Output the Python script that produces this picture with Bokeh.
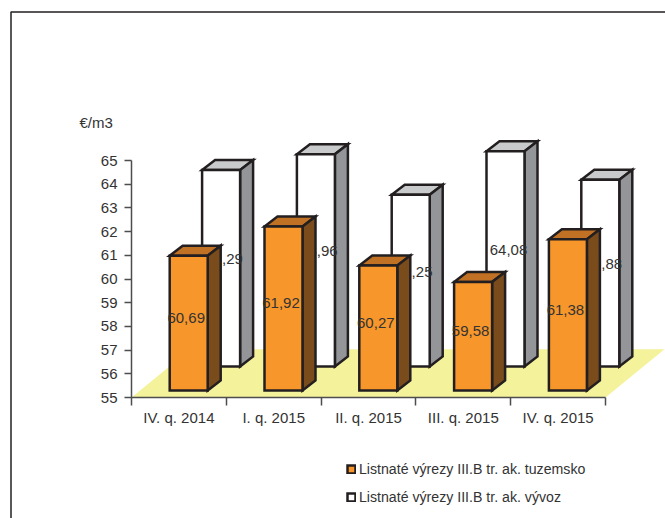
from bokeh.embed import file_html
from bokeh.resources import INLINE
from bokeh.plotting import figure
from bokeh.models import LinearAxis, FixedTicker, Legend, LegendItem, ColumnDataSource, Label, BoxAnnotation
from bokeh.core.properties import value

categories = ["IV. q. 2014", "I. q. 2015", "II. q. 2015", "III. q. 2015", "IV. q. 2015"]
domestic = [60.69, 61.92, 60.27, 59.58, 61.38]
export = [63.29, 63.96, 62.25, 64.08, 62.88]
domestic_labels = ["60,69", "61,92", "60,27", "59,58", "61,38"]
export_labels = ["63,29", "63,96", "62,25", "64,08", "62,88"]
series_names = ["Listnaté výrezy III.B tr. ak. tuzemsko", "Listnaté výrezy III.B tr. ak. vývoz"]
y_ticks = list(range(55, 66))

W, H = 665, 518
PX, PY = 94.8, 23.7          # pixels per category / per unit
AX0, AY0 = 131, 397          # axis origin in page pixels
FONT = "Liberation Sans"
DARK = "#231F20"
TXT = "#333333"

p = figure(width=W, height=H, output_backend="svg", toolbar_location=None,
           x_range=(-AX0 / PX, (W - AX0) / PX),
           y_range=(55 - (H - AY0) / PY, 55 + AY0 / PY),
           x_axis_type=None, y_axis_type=None,
           min_border=0, min_border_left=0, min_border_right=0, min_border_top=0, min_border_bottom=0)
p.grid.visible = False
p.outline_line_color = None
p.background_fill_color = "white"

# outer chart frame: left and top lines visible, the others run off the page
p.add_layout(BoxAnnotation(left=(10.5 - 131) / PX, right=(700 - 131) / PX,
                           top=55 + (397 - 11.5) / PY, bottom=55 - (560 - 397) / PY,
                           fill_color=None, fill_alpha=0, line_color=DARK, line_alpha=1.0,
                           line_width=1.5, level="underlay"))

# floor
fdx, fdy = 59.0 / PX, 48.3 / PY
p.patch([0, 5, 5 + fdx, fdx], [55, 55, 55 + fdy, 55 + fdy], fill_color="#F4F29A", line_color=None)

BAR_W = 38.0 / PX
DX, DY = 13.0 / PX, 10.0 / PY


def bars(values, xoff, yoff, front, top, side):
    left = [i + 0.5 + xoff - BAR_W / 2 for i in range(len(values))]
    right = [l + BAR_W for l in left]
    base = [55 + yoff] * len(values)
    tops = [v + yoff for v in values]
    style = dict(line_color=DARK, line_width=2.5, line_join="miter")
    p.patches([[l, r, r + DX, l + DX] for l, r in zip(left, right)],
              [[t, t, t + DY, t + DY] for t in tops], fill_color=top, **style)
    p.patches([[r, r + DX, r + DX, r] for r in right],
              [[b, b + DY, t + DY, t] for b, t in zip(base, tops)], fill_color=side, **style)
    return p.quad(left=left, right=right, bottom=base, top=tops, fill_color=front, **style), left, tops, base


r_exp, l_e, t_e, b_e = bars(export, 42.2 / PX, 31 / PY, "#FFFFFF", "#C8CACB", "#939598")
src_e = ColumnDataSource(dict(x=[l + BAR_W / 2 + 3 / PX for l in l_e],
                              y=[(t + b) / 2 + 9 / PY for t, b in zip(t_e, b_e)], t=export_labels))
p.text("x", "y", text="t", source=src_e, text_font=value(FONT), text_font_size="15px", text_color=TXT,
       text_align="center", text_baseline="middle")

r_dom, l_d, t_d, b_d = bars(domestic, 9.8 / PX, 7 / PY, "#F7962B", "#C07124", "#7A4C1C")
src_d = ColumnDataSource(dict(x=[l + BAR_W / 2 - 2.5 / PX for l in l_d],
                              y=[(t + b) / 2 + 5 / PY for t, b in zip(t_d, b_d)], t=domestic_labels))
p.text("x", "y", text="t", source=src_d, text_font=value(FONT), text_font_size="15px", text_color=TXT,
       text_align="center", text_baseline="middle")

AX_COL = "#4D4D4F"
ya = LinearAxis(fixed_location=0, ticker=FixedTicker(ticks=y_ticks), bounds=(55, 65))
ya.axis_line_color = AX_COL
ya.axis_line_width = 1.5
ya.major_tick_line_color = AX_COL
ya.major_tick_line_width = 1.5
ya.major_tick_out = 7
ya.major_tick_in = 0
ya.minor_tick_line_color = None
ya.major_label_standoff = 7
ya.major_label_text_font = FONT
ya.major_label_text_font_size = "15px"
ya.major_label_text_color = TXT
p.add_layout(ya, "left")

centers = [i + 0.5 for i in range(len(categories))]
xa = LinearAxis(fixed_location=55, bounds=(0, 5),
                ticker=FixedTicker(ticks=centers, minor_ticks=list(range(len(categories) + 1))))
xa.major_label_overrides = dict(zip(centers, categories))
xa.axis_line_color = AX_COL
xa.axis_line_width = 1.5
xa.major_tick_line_color = None
xa.major_tick_out = 0
xa.major_tick_in = 0
xa.minor_tick_line_color = AX_COL
xa.minor_tick_line_width = 1.5
xa.minor_tick_out = 8
xa.minor_tick_in = 0
xa.major_label_standoff = 3
xa.major_label_text_font = FONT
xa.major_label_text_font_size = "15px"
xa.major_label_text_color = TXT
p.add_layout(xa, "below")

p.add_layout(Label(x=(79 - 131) / PX, y=55 + (397 - 122) / PY, text="€/m3", text_font=FONT,
                   text_font_size="15px", text_color=TXT, text_baseline="middle"))

legend = Legend(items=[LegendItem(label=series_names[0], renderers=[r_dom]),
                       LegendItem(label=series_names[1], renderers=[r_exp])],
                location=(346, 13), orientation="vertical",
                border_line_color=None, background_fill_alpha=0,
                padding=0, margin=0, spacing=12, glyph_width=10, glyph_height=10, label_standoff=3,
                label_text_font=FONT, label_text_font_size="14.15px", label_text_color=TXT,
                label_height=14)
p.add_layout(legend, "center")

open("out.html", "w").write(file_html(p, INLINE))
